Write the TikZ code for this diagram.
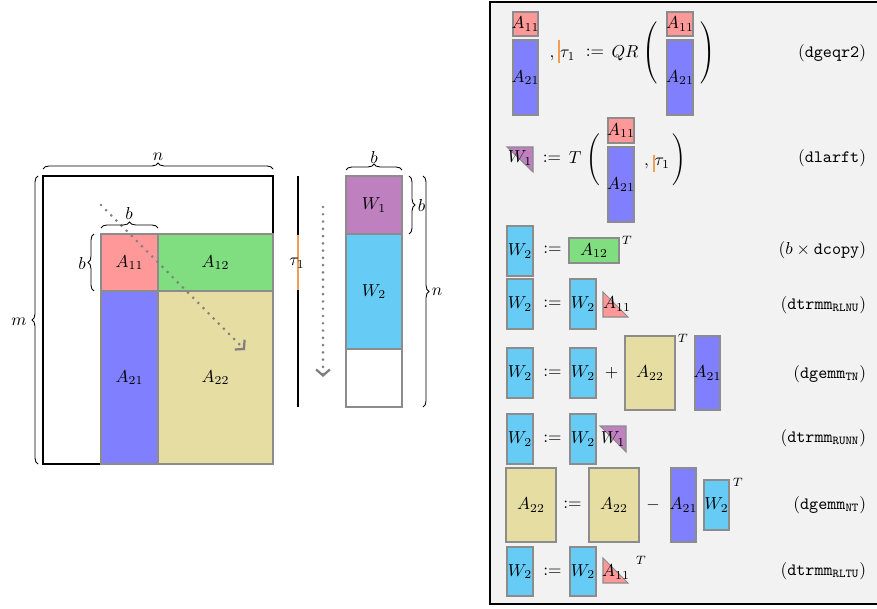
\documentclass[tikz,border=0pt]{standalone}
\usetikzlibrary{decorations.pathreplacing,arrows.meta}
\definecolor{cAa}{HTML}{FF9999}
\definecolor{cAb}{HTML}{80DD80}
\definecolor{cAc}{HTML}{8080FF}
\definecolor{cAd}{HTML}{E5DDA1}
\definecolor{cWa}{HTML}{BF80BF}
\definecolor{cWb}{HTML}{66CCF5}
\definecolor{bord}{HTML}{8C8C8C}
\definecolor{panel}{HTML}{F2F2F2}
\definecolor{tauc}{HTML}{F0A050}
\definecolor{arrc}{HTML}{7F7F7F}
\newcommand\myblk[7]{\filldraw[blk,fill=#5] (#1,#2) rectangle (#3,#4); \node[lbl] (#6) at ({(#1+#3)/2},{(#2+#4)/2}) {#7};}
\tikzset{
 blk/.style={draw=bord,line width=0.6pt},
 lbl/.style={inner sep=0pt,outer sep=0pt},
 brc/.style={decorate,decoration={brace,amplitude=3.5pt},line width=0.5pt},
 dotarr/.style={draw=arrc, line width=1.7pt, dash pattern=on 0pt off 4.2pt, line cap=round, -{Straight Barb[length=3.5pt,width=8pt,line width=1.3pt]}},
 taul/.style={draw=tauc,line width=1.1pt},
}
\begin{document}
\begin{tikzpicture}[x=0.578pt,y=-0.578pt]
\useasboundingbox (0,0) rectangle (877,608);
% ---------- left: matrix ----------
\draw[line width=0.6pt] (43,176) rectangle (273,464);
\myblk{101}{234}{158}{291}{cAa}{la11}{$A_{11}$}
\myblk{158}{234}{273}{291}{cAb}{la12}{$A_{12}$}
\myblk{101}{291}{158}{464}{cAc}{la21}{$A_{21}$}
\myblk{158}{291}{273}{464}{cAd}{la22}{$A_{22}$}
\coordinate (dgs) at (101,205);
\coordinate (dge) at (245,350);
\draw[dotarr] (dgs) -- (dge);
\draw[brc] (43,169) -- (273,169);
\node[lbl] (ln) at (158,157) {$n$};
\draw[brc] (38,464) -- (38,176);
\node[lbl] (lm) at (19,322) {$m$};
\draw[brc] (101,228) -- (158,228);
\node[lbl] (lb1) at (129,213) {$b$};
\draw[brc] (94,291) -- (94,234);
\node[lbl] (lb2) at (82,263) {$b$};
% tau column
\coordinate (tt) at (298,176);
\coordinate (tb) at (298,407);
\draw[line width=0.6pt] (tt) -- (tb);
\draw[taul] (298,235) -- (298,290);
\node[lbl] (ltau) at (297,263) {$\tau_1$};
\coordinate (vs) at (323,207);
\coordinate (ve) at (323,377);
\draw[dotarr] (vs) -- (ve);
% W column
\myblk{346}{176}{402}{234}{cWa}{lw1}{$W_1$}
\myblk{346}{234}{402}{349}{cWb}{lw2}{$W_2$}
\filldraw[blk,fill=white] (346,349) rectangle (402,407);
\draw[brc] (346,170) -- (402,170);
\node[lbl] (lb3) at (374,157) {$b$};
\draw[brc] (409,176) -- (409,234);
\node[lbl] (lb4) at (421.5,205) {$b$};
\draw[brc] (423,176) -- (423,407);
\node[lbl] (ln2) at (437,292) {$n$};
% ---------- right panel ----------
\filldraw[fill=panel,draw=black,line width=0.8pt] (490,2) rectangle (880,604);
% row 1
\myblk{513}{12}{538}{36}{cAa}{r1a}{$A_{11}$}
\myblk{513}{40}{538}{115}{cAc}{r1b}{$A_{21}$}
\draw[taul] (559,40) -- (559,63);
\node[lbl,anchor=base] (r1t) at (562.5,58) {$,\,\tau_1$};
\node[lbl] (r1e) at (595,53) {$:=$};
\node[lbl,anchor=base] (r1q) at (625,58) {$QR$};
\node[lbl] (r1l) at (651,52.5) {$\left(\vcenter{\hbox{\rule{0pt}{36pt}}}\right.$};
\myblk{667}{12}{693}{36}{cAa}{r1c}{$A_{11}$}
\myblk{667}{40}{693}{115}{cAc}{r1d}{$A_{21}$}
\node[lbl] (r1r) at (707,52.5) {$\left.\vcenter{\hbox{\rule{0pt}{36pt}}}\right)$};
\node[lbl,anchor=east] (r1n) at (866,53.5) {(\texttt{dgeqr2})};
% row 2
\filldraw[blk,fill=cWa] (507,147) -- (533,147) -- (533,172) -- cycle;
\node[lbl] (r2w) at (520,158) {$W_1$};
\node[lbl] (r2e) at (552,159) {$:=$};
\node[lbl,anchor=base] (r2T) at (575,164) {$T$};
\node[lbl] (r2l) at (594,159.5) {$\left(\vcenter{\hbox{\rule{0pt}{33pt}}}\right.$};
\myblk{608}{118}{634}{143}{cAa}{r2a}{$A_{11}$}
\myblk{608}{147}{634}{222}{cAc}{r2b}{$A_{21}$}
\draw[taul] (654,155) -- (654,172);
\node[lbl,anchor=base] (r2t) at (657,166) {$,\,\tau_1$};
\node[lbl] (r2r) at (678,159.5) {$\left.\vcenter{\hbox{\rule{0pt}{33pt}}}\right)$};
\node[lbl,anchor=east] (r2n) at (866,158) {(\texttt{dlarft})};
% row 3
\myblk{507}{226}{533}{276}{cWb}{r3w}{$W_2$}
\node[lbl] (r3e) at (552.5,250) {$:=$};
\myblk{569}{238}{619}{263}{cAb}{r3a}{$A_{12}$}
\node[lbl] (r3T) at (627,240) {$\scriptstyle T$};
\node[lbl,anchor=east] (r3n) at (866,250) {($b\times\texttt{dcopy}$)};
% row 4
\myblk{507}{279}{533}{329}{cWb}{r4w}{$W_2$}
\node[lbl] (r4e) at (552.5,304) {$:=$};
\myblk{570}{279}{596}{329}{cWb}{r4v}{$W_2$}
\filldraw[blk,fill=cAa] (603,292) -- (603,317) -- (628,317) -- cycle;
\node[lbl] (r4a) at (617,304) {$A_{11}$};
\node[lbl,anchor=east] (r4n) at (866,305) {(\texttt{dtrmm}$_{\mathtt{RLNU}}$)};
% row 5
\myblk{507}{348}{533}{398}{cWb}{r5w}{$W_2$}
\node[lbl] (r5e) at (552.5,373) {$:=$};
\myblk{570}{348}{596}{398}{cWb}{r5v}{$W_2$}
\node[lbl] (r5p) at (611.5,373) {$+$};
\myblk{625}{336}{675}{410}{cAd}{r5a}{$A_{22}$}
\node[lbl] (r5T) at (683,338) {$\scriptstyle T$};
\myblk{695}{336}{720}{410}{cAc}{r5b}{$A_{21}$}
\node[lbl,anchor=east] (r5n) at (866,374) {(\texttt{dgemm}$_{\mathtt{TN}}$)};
% row 6
\myblk{507}{414}{533}{464}{cWb}{r6w}{$W_2$}
\node[lbl] (r6e) at (552.5,439) {$:=$};
\myblk{570}{414}{596}{464}{cWb}{r6v}{$W_2$}
\filldraw[blk,fill=cWa] (600,426) -- (626,426) -- (626,452) -- cycle;
\node[lbl] (r6a) at (613,439) {$W_1$};
\node[lbl,anchor=east] (r6n) at (866,438) {(\texttt{dtrmm}$_{\mathtt{RUNN}}$)};
% row 7
\myblk{506}{468}{556}{542}{cAd}{r7a}{$A_{22}$}
\node[lbl] (r7e) at (572.5,505) {$:=$};
\myblk{589}{468}{639}{542}{cAd}{r7b}{$A_{22}$}
\node[lbl] (r7m) at (653,505) {$-$};
\myblk{671}{468}{696}{542}{cAc}{r7c}{$A_{21}$}
\myblk{704}{480}{729}{530}{cWb}{r7d}{$W_2$}
\node[lbl] (r7T) at (738,482) {$\scriptstyle T$};
\node[lbl,anchor=east] (r7n) at (866,505) {(\texttt{dgemm}$_{\mathtt{NT}}$)};
% row 8
\myblk{507}{547}{533}{596}{cWb}{r8w}{$W_2$}
\node[lbl] (r8e) at (552.5,572) {$:=$};
\myblk{570}{547}{596}{596}{cWb}{r8v}{$W_2$}
\filldraw[blk,fill=cAa] (603,558) -- (603,583) -- (628,583) -- cycle;
\node[lbl] (r8a) at (616,572) {$A_{11}$};
\node[lbl] (r8T) at (641,560) {$\scriptstyle T$};
\node[lbl,anchor=east] (r8n) at (866,571) {(\texttt{dtrmm}$_{\mathtt{RLTU}}$)};
\end{tikzpicture}
\end{document}
